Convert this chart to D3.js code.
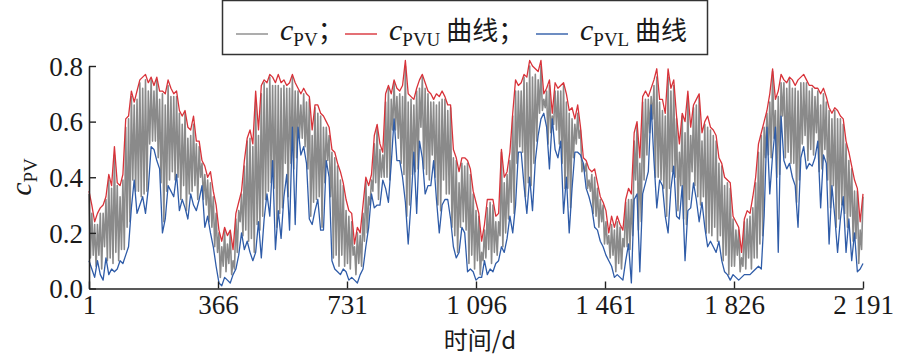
<!DOCTYPE html>
<html><head><meta charset="utf-8">
<script src="https://cdn.jsdelivr.net/npm/d3@7"></script>
<style>body{margin:0;background:#fff}svg{display:block}</style>
</head><body><svg id="chart" width="898" height="356"></svg>
<script>
// ---------- data ----------
const dayStart = 1, dayEnd = 2191;
const xTicks = [1, 366, 731, 1096, 1461, 1826, 2191];
const xTickLabels = ["1", "366", "731", "1 096", "1 461", "1 826", "2 191"];
const yTicks = [0, 0.2, 0.4, 0.6, 0.8];
const legendNames = ["PV", "PVU", "PVL"];
const legendSuffix = ["；", " 曲线；", " 曲线"];

// upper bound c_PVU (8-day steps)
const upper = [
.35,.30,.24,.27,.29,.30,.33,.41,.37,.51,.38,.37,.41,.61,.62,.71,.67,.71,.75,.76,
.77,.74,.76,.73,.76,.71,.71,.70,.75,.72,.70,.71,.64,.62,.64,.58,.57,.62,.53,.53,
.46,.44,.40,.42,.35,.30,.21,.17,.22,.19,.21,.14,.27,.31,.35,.46,.54,.57,.52,.71,
.57,.73,.75,.74,.77,.76,.74,.77,.74,.75,.73,.74,.77,.74,.72,.70,.72,.70,.69,.57,
.66,.66,.63,.62,.60,.58,.50,.49,.45,.42,.38,.32,.28,.27,.16,.22,.20,.30,.40,.37,
.41,.55,.59,.52,.49,.70,.73,.70,.75,.72,.71,.73,.82,.70,.69,.68,.72,.75,.77,.74,
.71,.70,.68,.70,.69,.71,.69,.66,.66,.50,.47,.42,.47,.47,.46,.43,.35,.31,.27,.17,
.23,.32,.32,.32,.26,.27,.50,.40,.42,.49,.63,.75,.73,.74,.77,.76,.82,.80,.79,.78,
.82,.70,.72,.75,.63,.74,.72,.73,.74,.70,.64,.65,.61,.66,.58,.47,.46,.43,.42,.43,
.38,.33,.31,.28,.20,.26,.22,.26,.23,.21,.32,.36,.34,.56,.60,.47,.69,.71,.69,.72,
.75,.79,.68,.68,.63,.79,.72,.75,.62,.52,.63,.60,.71,.58,.66,.68,.70,.56,.60,.62,
.58,.57,.55,.47,.45,.40,.39,.38,.26,.24,.22,.13,.25,.28,.27,.33,.40,.52,.56,.60,
.64,.70,.79,.68,.71,.77,.75,.74,.76,.75,.73,.75,.76,.77,.75,.73,.73,.72,.72,.70,
.72,.69,.65,.63,.65,.64,.62,.61,.53,.49,.44,.39,.36,.24,.34
];

// lower bound c_PVL (8-day steps)
const lower = [
.10,.07,.04,.10,.05,.03,.11,.05,.07,.06,.07,.10,.09,.12,.15,.29,.39,.27,.30,.33,
.27,.36,.51,.50,.46,.43,.20,.25,.37,.35,.33,.41,.28,.32,.29,.25,.34,.30,.28,.32,
.37,.22,.26,.20,.15,.08,.02,.01,.04,.03,.02,.05,.07,.12,.20,.14,.17,.13,.10,.13,
.24,.11,.25,.34,.26,.46,.14,.28,.18,.33,.41,.21,.58,.23,.58,.48,.51,.45,.25,.23,
.28,.32,.21,.21,.46,.40,.10,.07,.06,.05,.07,.06,.03,.04,.03,.02,.05,.07,.15,.22,
.34,.29,.30,.30,.39,.36,.31,.45,.61,.46,.46,.40,.31,.16,.31,.49,.27,.53,.47,.34,
.37,.37,.46,.32,.20,.30,.32,.32,.25,.15,.11,.13,.22,.20,.06,.07,.06,.03,.04,.04,
.10,.05,.07,.06,.09,.10,.15,.13,.18,.26,.20,.30,.49,.49,.37,.27,.40,.28,.46,.55,
.61,.63,.58,.43,.61,.50,.47,.53,.27,.40,.20,.36,.49,.49,.48,.45,.36,.33,.29,.22,
.21,.17,.15,.12,.10,.08,.04,.05,.04,.03,.10,.16,.02,.32,.34,.06,.34,.38,.42,.66,
.46,.29,.39,.37,.26,.20,.36,.44,.26,.25,.37,.10,.28,.29,.38,.32,.24,.31,.22,.15,
.17,.15,.13,.17,.10,.06,.05,.03,.05,.04,.03,.04,.05,.05,.05,.06,.07,.08,.07,.26,
.58,.34,.48,.58,.13,.62,.46,.43,.45,.40,.37,.22,.47,.51,.43,.45,.44,.47,.53,.29,
.48,.45,.16,.37,.26,.13,.25,.33,.13,.25,.10,.20,.06,.07,.09
];

// observed c_PV (4-day steps)
const gray = [
.34,.11,.27,.12,.23,.08,.23,.12,.27,.07,.27,.15,.32,.10,.39,.11,.36,.09,.48,.13,
.37,.10,.33,.14,.39,.14,.58,.22,.61,.24,.69,.39,.66,.35,.68,.35,.74,.33,.72,.34,
.75,.35,.71,.52,.75,.53,.71,.53,.75,.47,.68,.38,.70,.24,.66,.35,.73,.39,.69,.42,
.69,.39,.69,.40,.63,.32,.59,.37,.63,.28,.54,.34,.55,.35,.59,.37,.52,.32,.51,.40,
.45,.32,.41,.30,.39,.24,.38,.22,.33,.15,.27,.13,.20,.04,.15,.08,.21,.06,.16,.09,
.20,.05,.10,.07,.25,.13,.28,.24,.34,.19,.44,.21,.53,.17,.54,.18,.51,.13,.67,.23,
.55,.21,.70,.26,.74,.32,.72,.35,.76,.38,.73,.36,.73,.22,.73,.27,.72,.29,.73,.45,
.72,.33,.72,.45,.76,.43,.71,.47,.71,.54,.66,.54,.70,.51,.67,.43,.68,.26,.55,.31,
.65,.32,.63,.33,.62,.22,.58,.38,.58,.46,.55,.33,.49,.11,.47,.12,.44,.08,.39,.12,
.37,.08,.28,.09,.26,.07,.24,.12,.15,.05,.20,.09,.19,.08,.27,.17,.39,.20,.33,.30,
.39,.35,.52,.38,.58,.32,.50,.40,.48,.40,.67,.40,.72,.39,.68,.57,.74,.57,.69,.54,
.70,.45,.69,.41,.80,.26,.67,.30,.68,.41,.66,.42,.71,.43,.72,.58,.76,.43,.72,.41,
.70,.39,.67,.48,.67,.40,.66,.30,.67,.28,.68,.39,.68,.34,.64,.34,.65,.22,.47,.19,
.46,.13,.38,.22,.45,.24,.44,.21,.45,.09,.41,.12,.34,.07,.28,.10,.26,.05,.13,.10,
.21,.11,.29,.14,.31,.09,.30,.13,.24,.12,.24,.19,.49,.15,.38,.20,.41,.25,.46,.31,
.62,.27,.71,.45,.71,.51,.71,.49,.76,.33,.74,.38,.80,.37,.76,.45,.77,.53,.75,.63,
.80,.64,.68,.65,.71,.52,.73,.56,.62,.59,.71,.57,.71,.52,.71,.45,.73,.36,.67,.36,
.63,.29,.61,.47,.59,.52,.63,.54,.57,.42,.45,.42,.45,.36,.39,.35,.41,.27,.40,.26,
.36,.22,.32,.24,.30,.16,.24,.16,.19,.11,.23,.12,.21,.06,.24,.09,.22,.07,.18,.15,
.31,.15,.32,.14,.32,.19,.53,.39,.59,.21,.45,.24,.67,.39,.68,.48,.68,.56,.69,.61,
.73,.40,.76,.40,.67,.39,.64,.36,.62,.26,.76,.36,.71,.42,.73,.40,.61,.28,.49,.37,
.62,.25,.56,.23,.69,.32,.55,.42,.65,.37,.66,.33,.69,.30,.53,.33,.59,.20,.58,.20,
.57,.19,.55,.22,.53,.17,.45,.19,.44,.10,.37,.12,.38,.05,.36,.08,.25,.08,.21,.12,
.21,.06,.11,.08,.24,.07,.25,.11,.26,.07,.29,.11,.38,.11,.49,.16,.55,.19,.58,.47,
.63,.48,.67,.47,.78,.54,.64,.40,.69,.41,.74,.62,.74,.47,.72,.49,.75,.45,.72,.45,
.72,.31,.71,.39,.74,.52,.74,.55,.74,.46,.71,.50,.72,.48,.69,.56,.71,.42,.66,.43,
.70,.50,.67,.39,.64,.29,.61,.37,.64,.22,.61,.25,.61,.30,.59,.27,.52,.22,.46,.26,
.43,.17,.35,.18,.35,.09,.21,.14,.33
];

// ---------- drawing ----------
const svg = d3.select("#chart");
const serif = "'Liberation Serif','Times New Roman',serif";
const cjk = "'Noto Sans CJK SC',sans-serif";

const x = d3.scaleLinear().domain([dayStart, dayEnd]).range([89, 863]);
const y = d3.scaleLinear().domain([0, 0.8]).range([288.5, 66]);

const daysFor = arr => arr.map((_, i) => dayStart + i * (dayEnd - dayStart) / (arr.length - 1));
const line = d3.line().x(d => x(d[0])).y(d => y(d[1]));
const pairs = arr => { const ds = daysFor(arr); return arr.map((v, i) => [ds[i], v]); };

const sGray  = {data: gray,  color: "#8a8a8a", w: 1.6};
const sUpper = {data: upper, color: "#d8333a", w: 1.3};
const sLower = {data: lower, color: "#2f5ca8", w: 1.3};
const drawOrder = [sGray, sLower, sUpper];
const legendOrder = [sGray, sUpper, sLower];

svg.append("g").selectAll("path").data(drawOrder).join("path")
  .attr("d", s => line(pairs(s.data)))
  .attr("fill", "none")
  .attr("stroke", s => s.color)
  .attr("stroke-width", s => s.w)
  .attr("stroke-linejoin", "round");

// axes
const xAxis = d3.axisBottom(x).tickValues(xTicks)
  .tickFormat((d, i) => xTickLabels[i]).tickSizeInner(-7).tickSizeOuter(0).tickPadding(6);
const gx = svg.append("g").attr("transform", "translate(0,288.5)").call(xAxis);
const yAxis = d3.axisLeft(y).tickValues(yTicks).tickFormat(d3.format(".1f"))
  .tickSizeInner(-7).tickSizeOuter(0).tickPadding(6);
const gy = svg.append("g").attr("transform", "translate(89,0)").call(yAxis);
[gx, gy].forEach(g => {
  g.select(".domain").attr("stroke", "#222").attr("stroke-width", 1.6);
  g.selectAll(".tick line").attr("stroke", "#222").attr("stroke-width", 1.4);
  g.selectAll(".tick text").style("font-family", serif).attr("font-size", 27).attr("fill", "#1a1a1a");
});
gx.selectAll(".tick text").attr("dy", "0.71em");
gy.selectAll(".tick text").attr("dy", "0.34em");

// axis titles
svg.append("text").attr("x", 480).attr("y", 349).attr("text-anchor", "middle")
  .style("font-family", cjk).attr("font-size", 24).attr("fill", "#1a1a1a")
  .text("时间/d");
const yl = svg.append("text").attr("transform", "translate(31,177) rotate(-90)")
  .attr("text-anchor", "middle").style("font-family", serif).attr("fill", "#1a1a1a");
yl.append("tspan").attr("font-style", "italic").attr("font-size", 30).text("c");
yl.append("tspan").attr("font-size", 19).attr("dy", 6).text("PV");

// legend
svg.append("rect").attr("x", 222.5).attr("y", 0.5).attr("width", 485).attr("height", 54)
  .attr("fill", "#fff").attr("stroke", "#333").attr("stroke-width", 1.5);
const legX = [236, 345, 536];
const lg = svg.append("g").selectAll("g").data(legendOrder).join("g")
  .attr("transform", (d, i) => `translate(${legX[i]},0)`);
lg.append("line").attr("x1", 0).attr("x2", 32).attr("y1", 34).attr("y2", 34)
  .attr("stroke", d => d.color).attr("stroke-width", 1.4);
const lt = lg.append("text").attr("x", 44).attr("y", 40).attr("fill", "#1a1a1a");
lt.append("tspan").style("font-family", serif).attr("font-style", "italic").attr("font-size", 30).text("c");
lt.append("tspan").style("font-family", serif).attr("font-size", 19).attr("dy", 6).text((d, i) => legendNames[i]);
lt.append("tspan").style("font-family", cjk).attr("font-size", 26).attr("dy", -6).text((d, i) => legendSuffix[i]);
</script></body></html>
